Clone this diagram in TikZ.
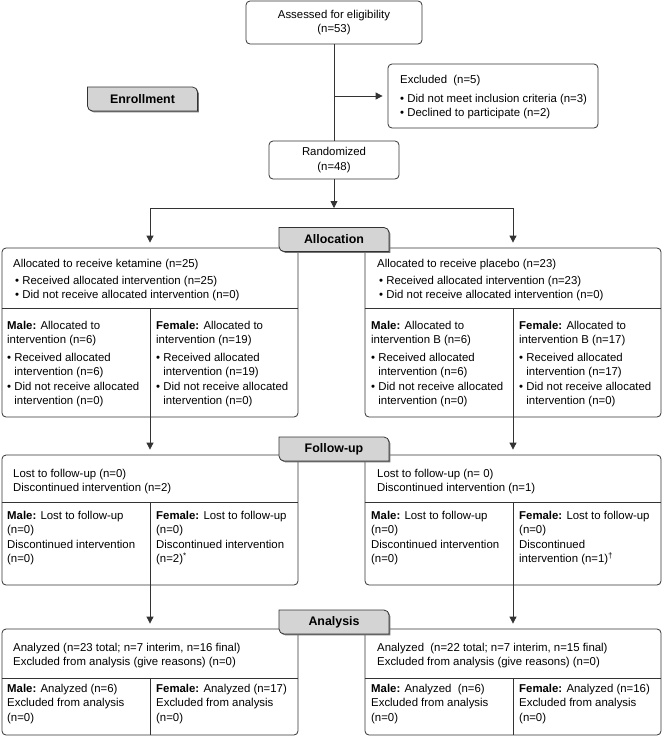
\documentclass[tikz,border=0pt]{standalone}
\usepackage{fontspec}
\setmainfont{Liberation Sans}
\usetikzlibrary{arrows.meta}

\newcommand{\bul}{\makebox[7.2pt][l]{\textbullet}}
\newcommand{\ind}{\hspace*{7.2pt}}
\newcommand{\tagpath}[2]{(#1-55,#2-12) -- (#1+50,#2-12) arc[start angle=90, end angle=0, radius=5pt]
    -- (#1+55,#2+12) -- (#1-50,#2+12) arc[start angle=270, end angle=180, radius=5pt] -- cycle}
\newcommand{\stagetag}[4]{%
  \fill[black!55] \tagpath{#2+1.3}{#3+1.3};
  \draw[tag] \tagpath{#2}{#3};
  \node[tagtext] (#1) at (#2,#3) {#4};}

\begin{document}
\begin{tikzpicture}[x=1pt, y=-1pt, font=\fontsize{11.4}{14.3}\selectfont,
    line/.style={draw=black!80, line width=0.8pt},
    arr/.style={line, -{Triangle[length=7pt, width=7pt]}},
    box/.style 2 args={line, rounded corners=4pt, minimum width=#1, minimum height=#2, inner sep=0pt, align=center},
    txt/.style={anchor=north west, align=left, inner sep=0pt},
    tag/.style={line, fill=black!17},
    tagtext/.style={inner sep=0pt, font=\fontsize{12.4}{14}\selectfont\bfseries}]
  \useasboundingbox (0,0) rectangle (662,737);

  % enrollment
  \node[box={176pt}{43pt}] (assess) at (334,22.5) {Assessed for eligibility\\(n=53)};
  \node[box={210pt}{64pt}] (excl) at (493,96) {};
  \node[txt] (excltext) at (400,75) {Excluded\ \ (n=5)\\[4.5pt]\bul Did not meet inclusion criteria (n=3)\\\bul Declined to participate (n=2)};
  \node[box={130pt}{38pt}] (rand) at (334,160) {Randomized\\(n=48)};

  % the three stages, one box per arm
  \node[box={296pt}{169pt}] (allocL) at (150,332.5) {};
  \node[box={296pt}{169pt}] (allocR) at (513,332.5) {};
  \node[box={296pt}{130pt}] (followL) at (150,520) {};
  \node[box={296pt}{130pt}] (followR) at (513,520) {};
  \node[box={296pt}{106pt}] (anaL) at (150,682) {};
  \node[box={296pt}{106pt}] (anaR) at (513,682) {};
  \foreach \b/\y in {allocL/308, allocR/308, followL/502, followR/502, anaL/678, anaR/678} {
    \draw[line] (\b.west |- 0,\y) -- (\b.east |- 0,\y);
    \draw[line] (\b.center |- 0,\y) -- (\b.south);
  }

  % allocation
  \node[txt] (allocLtop) at (13,259) {Allocated to receive ketamine (n=25)\\[2.5pt]
    \hspace*{2pt}\bul Received allocated intervention (n=25)\\\hspace*{2pt}\bul Did not receive allocated intervention (n=0)};
  \node[txt] (allocLm) at (7,321) {\textbf{Male:} Allocated to\\intervention (n=6)\\[3.5pt]
    \bul Received allocated\\\ind intervention (n=6)\\\bul Did not receive allocated\\\ind intervention (n=0)};
  \node[txt] (allocLf) at (156,321) {\textbf{Female:} Allocated to\\intervention (n=19)\\[3.5pt]
    \bul Received allocated\\\ind intervention (n=19)\\\bul Did not receive allocated\\\ind intervention (n=0)};
  \node[txt] (allocRtop) at (377,259) {Allocated to receive placebo (n=23)\\[2.5pt]
    \hspace*{2pt}\bul Received allocated intervention (n=23)\\\hspace*{2pt}\bul Did not receive allocated intervention (n=0)};
  \node[txt] (allocRm) at (371,321) {\textbf{Male:} Allocated to\\intervention B (n=6)\\[3.5pt]
    \bul Received allocated\\\ind intervention (n=6)\\\bul Did not receive allocated\\\ind intervention (n=0)};
  \node[txt] (allocRf) at (519,321) {\textbf{Female:} Allocated to\\intervention B (n=17)\\[3.5pt]
    \bul Received allocated\\\ind intervention (n=17)\\\bul Did not receive allocated\\\ind intervention (n=0)};

  % follow-up
  \node[txt] (followLtop) at (13,469) {Lost to follow-up (n=0)\\Discontinued intervention (n=2)};
  \node[txt] (followLm) at (7,511) {\textbf{Male:} Lost to follow-up\\(n=0)\\Discontinued intervention\\(n=0)};
  \node[txt] (followLf) at (156,511) {\textbf{Female:} Lost to follow-up\\(n=0)\\Discontinued intervention\\(n=2)\textsuperscript{*}};
  \node[txt] (followRtop) at (377,469) {Lost to follow-up (n= 0)\\Discontinued intervention (n=1)};
  \node[txt] (followRm) at (371,511) {\textbf{Male:} Lost to follow-up\\(n=0)\\Discontinued intervention\\(n=0)};
  \node[txt] (followRf) at (519,511) {\textbf{Female:} Lost to follow-up\\(n=0)\\Discontinued\\intervention (n=1)\textsuperscript{\textdagger}};

  % analysis
  \node[txt] (anaLtop) at (13,643) {Analyzed (n=23 total; n=7 interim, n=16 final)\\Excluded from analysis (give reasons) (n=0)};
  \node[txt] (anaLm) at (7,684) {\textbf{Male:} Analyzed (n=6)\\Excluded from analysis\\(n=0)};
  \node[txt] (anaLf) at (156,684) {\textbf{Female:} Analyzed (n=17)\\Excluded from analysis\\(n=0)};
  \node[txt] (anaRtop) at (377,643) {Analyzed\ \ (n=22 total; n=7 interim, n=15 final)\\Excluded from analysis (give reasons) (n=0)};
  \node[txt] (anaRm) at (371,684) {\textbf{Male:} Analyzed\ \ (n=6)\\Excluded from analysis\\(n=0)};
  \node[txt] (anaRf) at (519,684) {\textbf{Female:} Analyzed (n=16)\\Excluded from analysis\\(n=0)};

  % connectors
  \coordinate (split) at (334,208);
  \draw[line] (assess) -- (rand);
  \draw[arr, shorten >=5pt] (assess.south |- excl.west) -- (excl.west);
  \draw[arr] (rand) -- (split);
  \draw[arr, shorten >=5pt] (split) -| (allocL);
  \draw[arr, shorten >=5pt] (split) -| (allocR);
  \draw[arr, shorten >=5pt] (allocL) -- (followL);
  \draw[arr, shorten >=5pt] (allocR) -- (followR);
  \draw[arr, shorten >=5pt] (followL) -- (anaL);
  \draw[arr, shorten >=5pt] (followR) -- (anaR);

  % stage labels
  \stagetag{enroll}{142.5}{99}{Enrollment}
  \stagetag{alloc}{334}{239.5}{Allocation}
  \stagetag{follow}{334}{449}{Follow-up}
  \stagetag{analysis}{334}{622}{Analysis}
\end{tikzpicture}
\end{document}
